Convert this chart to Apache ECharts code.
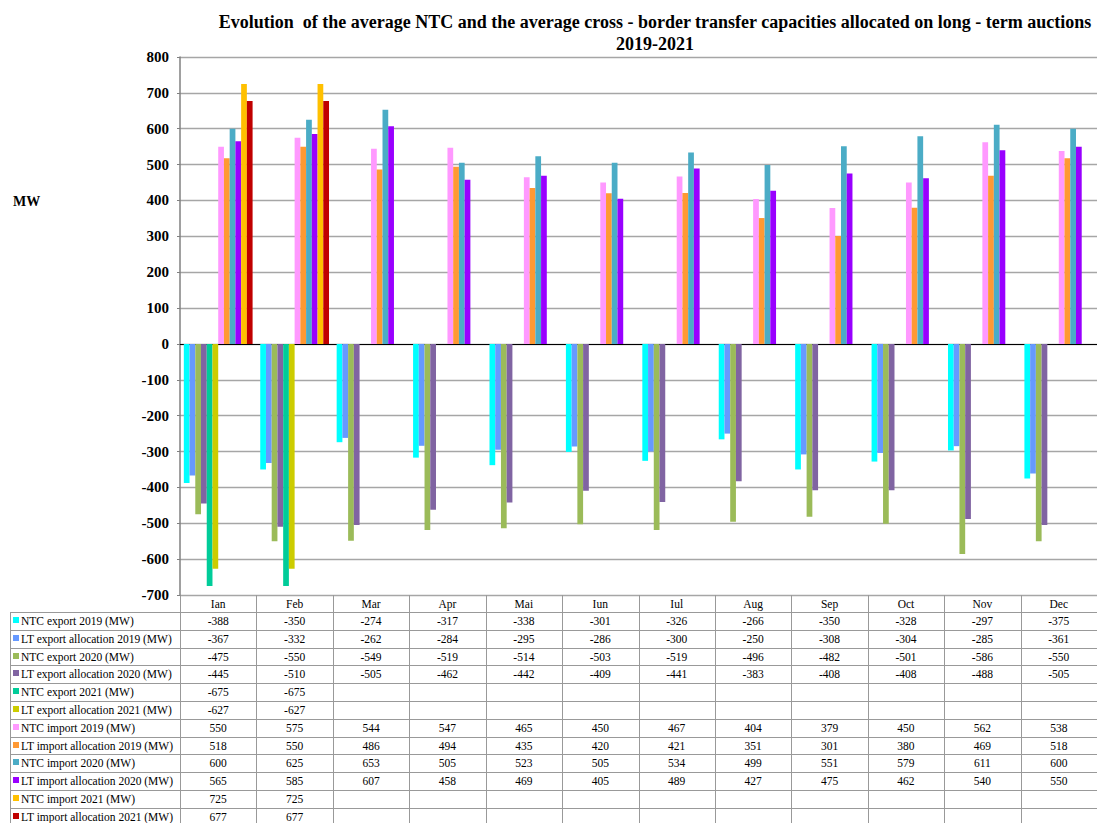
<!DOCTYPE html>
<html><head><meta charset="utf-8">
<script src="https://cdn.jsdelivr.net/npm/echarts@6/dist/echarts.min.js"></script>
<style>html,body{margin:0;padding:0;background:#fff}#c{width:1097px;height:823px}</style>
</head><body><div id="c"></div>
<script>
// ---- data ----
const months = ['Ian','Feb','Mar','Apr','Mai','Iun','Iul','Aug','Sep','Oct','Nov','Dec'];
const yTicks = [-700,-600,-500,-400,-300,-200,-100,0,100,200,300,400,500,600,700,800];
const ntcExport2019 = [-388,-350,-274,-317,-338,-301,-326,-266,-350,-328,-297,-375];
const ltExport2019  = [-367,-332,-262,-284,-295,-286,-300,-250,-308,-304,-285,-361];
const ntcExport2020 = [-475,-550,-549,-519,-514,-503,-519,-496,-482,-501,-586,-550];
const ltExport2020  = [-445,-510,-505,-462,-442,-409,-441,-383,-408,-408,-488,-505];
const ntcExport2021 = [-675,-675,null,null,null,null,null,null,null,null,null,null];
const ltExport2021  = [-627,-627,null,null,null,null,null,null,null,null,null,null];
const ntcImport2019 = [550,575,544,547,465,450,467,404,379,450,562,538];
const ltImport2019  = [518,550,486,494,435,420,421,351,301,380,469,518];
const ntcImport2020 = [600,625,653,505,523,505,534,499,551,579,611,600];
const ltImport2020  = [565,585,607,458,469,405,489,427,475,462,540,550];
const ntcImport2021 = [725,725,null,null,null,null,null,null,null,null,null,null];
const ltImport2021  = [677,677,null,null,null,null,null,null,null,null,null,null];
const seriesNames = ['NTC export 2019 (MW)','LT export allocation 2019 (MW)','NTC export 2020 (MW)','LT export allocation 2020 (MW)','NTC export 2021 (MW)','LT export allocation 2021 (MW)','NTC import 2019 (MW)','LT import allocation 2019 (MW)','NTC import 2020 (MW)','LT import allocation 2020 (MW)','NTC import 2021 (MW)','LT import allocation 2021 (MW)'];
const seriesData = [ntcExport2019,ltExport2019,ntcExport2020,ltExport2020,ntcExport2021,ltExport2021,ntcImport2019,ltImport2019,ntcImport2020,ltImport2020,ntcImport2021,ltImport2021];
const titleLines = ['Evolution  of the average NTC and the average cross - border transfer capacities allocated on long - term auctions','2019-2021'];
const yName = 'MW';

// ---- styles ----
const seriesColors = ['#00FFFF','#6699FF','#9BBB59','#8064A2','#00CC99','#CCCC00','#FF99FF','#FF9933','#4BACC6','#9900FF','#FFC000','#C00000'];
const serif = '"Liberation Serif","Times New Roman",serif';
const GRID = {left:180, right:0, top:57, bottom:228};

const chart = echarts.init(document.getElementById('c'), null, {renderer:'svg'});
const option = {
  animation:false,
  backgroundColor:'#fff',
  grid:{left:GRID.left, right:GRID.right, top:GRID.top, bottom:GRID.bottom, containLabel:false},
  xAxis:{type:'category', data:months, axisLine:{onZero:true, lineStyle:{color:'#000', width:1}}, axisTick:{show:false}, axisLabel:{show:false}, splitLine:{show:false}},
  yAxis:{type:'value', min:yTicks[0], max:yTicks[yTicks.length-1], interval:100,
    axisLine:{show:true, lineStyle:{color:'#808080', width:1.5}},
    axisTick:{show:true, length:3, lineStyle:{color:'#808080'}},
    axisLabel:{color:'#000', fontFamily:serif, fontWeight:'bold', fontSize:15, margin:11},
    splitLine:{show:true, lineStyle:{color:'#a6a6a6', width:1.3}}},
  series: seriesData.map((d,i)=>({type:'bar', name:seriesNames[i], data:d, itemStyle:{color:seriesColors[i]}, barGap:'0%', barCategoryGap:'10%'}))
};
chart.setOption(option);

// ---- title, axis name and data table (graphic) ----
const g = [];
g.push({type:'text', x:655, y:22, silent:true, style:{text:titleLines[0], fill:'#000', font:'bold 18px '+serif, align:'center', verticalAlign:'middle'}});
g.push({type:'text', x:655, y:44, silent:true, style:{text:titleLines[1], fill:'#000', font:'bold 18px '+serif, align:'center', verticalAlign:'middle'}});
g.push({type:'text', x:13, y:201, silent:true, style:{text:yName, fill:'#000', font:'bold 14px '+serif, align:'left', verticalAlign:'middle'}});

const centers = months.map(m=>chart.convertToPixel({xAxisIndex:0}, m));
const colW = centers[1]-centers[0];
const yBottom = chart.convertToPixel({yAxisIndex:0}, yTicks[0]);
const headerTop = yBottom, rowTop = yBottom+17, rowH = 17.8, tableLeft = 10;
const lineCol = '#999';
const nRows = seriesNames.length;
const cellFont = '11.5px '+serif;
for (let r=0; r<=nRows; r++) {
  const y = Math.round(rowTop + r*rowH)+0.5;
  g.push({type:'line', silent:true, shape:{x1:tableLeft, y1:y, x2:1097, y2:y}, style:{stroke:lineCol, lineWidth:1}});
}
g.push({type:'line', silent:true, shape:{x1:tableLeft+0.5, y1:rowTop, x2:tableLeft+0.5, y2:823}, style:{stroke:lineCol, lineWidth:1}});
for (let i=0;i<=months.length;i++){
  const x = Math.round(centers[0]-colW/2 + i*colW)+0.5;
  g.push({type:'line', silent:true, shape:{x1:x, y1:headerTop, x2:x, y2:823}, style:{stroke:lineCol, lineWidth:1}});
}
months.forEach((m,i)=>{
  g.push({type:'text', silent:true, x:centers[i], y:headerTop+9, style:{text:m, fill:'#000', font:cellFont, align:'center', verticalAlign:'middle'}});
});
seriesNames.forEach((n,r)=>{
  const cy = rowTop + r*rowH + rowH/2;
  g.push({type:'rect', silent:true, shape:{x:13, y:Math.round(cy-4), width:6, height:6}, style:{fill:seriesColors[r]}});
  g.push({type:'text', silent:true, x:21, y:cy, style:{text:n, fill:'#000', font:cellFont, align:'left', verticalAlign:'middle'}});
  seriesData[r].forEach((v,i)=>{
    if (v===null) return;
    g.push({type:'text', silent:true, x:centers[i], y:cy, style:{text:String(v), fill:'#000', font:cellFont, align:'center', verticalAlign:'middle'}});
  });
});
chart.setOption({graphic:{elements:g}});
</script>
</body></html>
